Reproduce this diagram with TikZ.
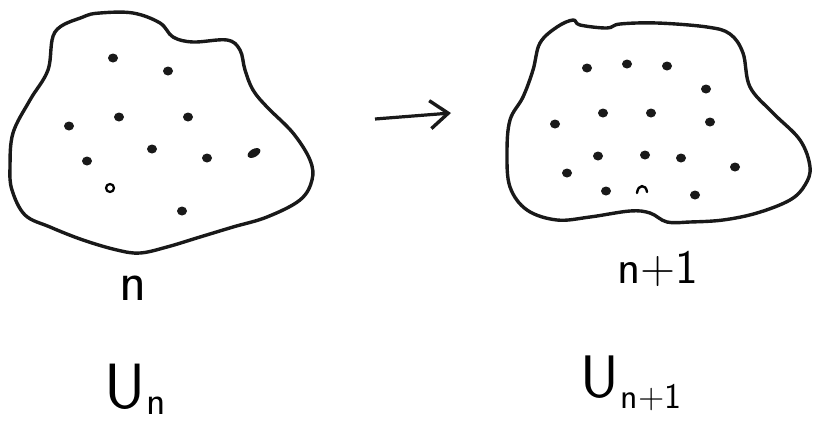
\documentclass[tikz,border=0pt]{standalone}
\usetikzlibrary{arrows.meta}

\begin{document}
\begin{tikzpicture}[
  x=1pt, y=-1pt,
  blob/.style={draw=black!90, line width=3.4pt, line join=round},
  dot/.style={fill=black!90, draw=none},
  lbl/.style={font=\sffamily, inner sep=0pt, anchor=base west},
  arr/.style={-{Straight Barb[length=18pt, width=28pt, line width=3.4pt]}, line width=3.2pt, black!90}
]
\useasboundingbox (0,0) rectangle (814,421);
% set n
\draw[blob] plot[smooth cycle, tension=0.6] coordinates {(83,17) (100,13) (133,13) (160,23) (173,37) (193,42) (227,40) (240,50) (245,70) (253,90) (267,107) (293,133) (310,160) (312,180) (300,200) (267,217) (233,227) (200,237) (167,247) (140,253) (117,250) (83,240) (50,227) (25,215) (12,190) (10,167) (13,133) (30,100) (48,70) (55,32)};
\foreach \x/\y in {113/58, 168/71, 69/126, 119/117, 188/117, 152/149, 87/161, 207/158, 182/211}
  \fill[dot] (\x,\y) ellipse (5 and 4.5);
\fill[dot, rotate around={30:(254,153)}] (254,153) ellipse (7 and 4);
\draw[line width=2.2pt] (110,188) circle (4);
% set n+1
\draw[blob] plot[smooth cycle, tension=0.6] coordinates {(580,25) (607,28) (620,24) (657,23) (707,27) (730,34) (743,53) (750,87) (773,113) (800,140) (810,167) (805,185) (790,200) (757,213) (723,220) (690,222) (667,222) (650,213) (630,211) (590,217) (557,220) (527,210) (510,187) (507,153) (510,120) (523,97) (533,70) (540,43) (557,27) (573,20)};
\foreach \x/\y in {587/68, 627/64, 667/66, 706/89, 603/113, 651/113, 710/122, 555/124, 598/156, 645/155, 681/158, 735/167, 567/173, 606/191, 695/195}
  \fill[dot] (\x,\y) ellipse (5 and 4.5);
\draw[line width=2.4pt, line cap=round] (637,193) .. controls (638,184) and (646,184) .. (647,192);
% step
\coordinate (tail) at (375,119);
\coordinate (head) at (451,113);
\draw[arr] (tail) -- (head);
% labels
\node[lbl, font=\sffamily\fontsize{56}{56}\selectfont] (lbln) at (119,300) {n};
\node[lbl, font=\sffamily\fontsize{48}{48}\selectfont] (lblm) at (617,283) {n+1};
\node[lbl, font=\sffamily\fontsize{64}{64}\selectfont] (un) at (104,408) {U\kern1pt\raisebox{-6pt}{\fontsize{40}{40}\selectfont n}};
\node[lbl, font=\sffamily\fontsize{60}{60}\selectfont] (um) at (580,397) {U\kern2pt\raisebox{-11pt}{\fontsize{36}{36}\selectfont n+1}};
\end{tikzpicture}
\end{document}
